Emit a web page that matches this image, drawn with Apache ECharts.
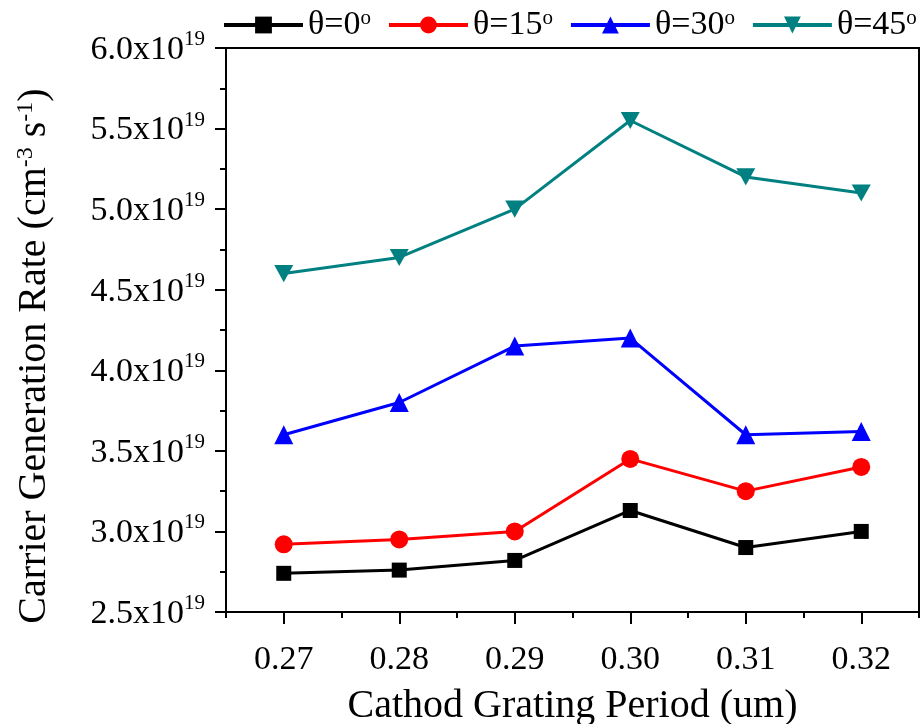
<!DOCTYPE html>
<html>
<head>
<meta charset="utf-8">
<script src="https://cdn.jsdelivr.net/npm/echarts@6/dist/echarts.min.js"></script>
<style>
  html, body { margin: 0; padding: 0; background: #fff; }
  #chart { width: 921px; height: 724px; }
</style>
</head>
<body>
<div id="chart"></div>
<script>
// Grating periods (um) on the x axis
const periods = ['0.27', '0.28', '0.29', '0.30', '0.31', '0.32'];
// Carrier generation rate, in units of 1e19 cm^-3 s^-1
const theta0  = [2.74, 2.76, 2.82, 3.13, 2.90, 3.00];
const theta15 = [2.92, 2.95, 3.00, 3.45, 3.25, 3.40];
const theta30 = [3.60, 3.80, 4.15, 4.20, 3.60, 3.62];
const theta45 = [4.60, 4.70, 5.00, 5.55, 5.20, 5.10];
const seriesNames = ['θ=0', 'θ=15', 'θ=30', 'θ=45'];
const yExponent = '19';

const FONT = '"Liberation Serif", "Times New Roman", serif';

const chart = echarts.init(document.getElementById('chart'), null, { renderer: 'canvas' });

function lineSeries(name, data, color, symbol, size) {
  return {
    name: name,
    type: 'line',
    data: data,
    symbol: symbol,
    symbolSize: size,
    symbolKeepAspect: true,
    lineStyle: { color: color, width: 3 },
    itemStyle: { color: color },
    emphasis: { disabled: true },
    animation: false
  };
}

const option = {
  backgroundColor: '#ffffff',
  legend: {
    top: 8,
    left: 222,
    width: 720,
    padding: 0,
    itemWidth: 79,
    itemHeight: 21,
    itemGap: 16,
    data: seriesNames,
    lineStyle: { width: 4 },
    formatter: function (n) { return n + '{s|o}'; },
    textStyle: {
      fontFamily: FONT,
      fontSize: 34,
      color: '#000',
      rich: {
        s: { fontFamily: FONT, fontSize: 21, verticalAlign: 'top', lineHeight: 18, color: '#000' }
      }
    }
  },
  grid: {
    left: 226,
    right: 2,
    top: 48,
    bottom: 112,
    containLabel: false,
    outerBoundsMode: 'none',
    show: true,
    borderColor: '#000',
    borderWidth: 2,
    backgroundColor: 'transparent'
  },
  xAxis: [
    {
      type: 'category',
      data: periods,
      boundaryGap: true,
      axisLine: { lineStyle: { color: '#000', width: 2 } },
      axisTick: { show: true, alignWithLabel: true, length: 12, lineStyle: { color: '#000', width: 2 } },
      axisLabel: { fontFamily: FONT, fontSize: 34, color: '#000', margin: 31 },
      splitLine: { show: false },
      name: 'Cathod Grating Period (um)',
      nameLocation: 'middle',
      nameGap: 74,
      nameTextStyle: { fontFamily: FONT, fontSize: 40, color: '#000' }
    },
    {
      // boundary ticks between periods (minor ticks)
      type: 'category',
      data: periods,
      position: 'bottom',
      boundaryGap: true,
      axisLine: { show: false },
      axisTick: { show: true, alignWithLabel: false, length: 6, lineStyle: { color: '#000', width: 2 } },
      axisLabel: { show: false },
      splitLine: { show: false }
    }
  ],
  yAxis: {
    type: 'value',
    min: 2.5,
    max: 6.0,
    interval: 0.5,
    axisLine: { show: true, lineStyle: { color: '#000', width: 2 } },
    axisTick: { show: true, length: 11, lineStyle: { color: '#000', width: 2 } },
    minorTick: { show: true, splitNumber: 2, length: 6, lineStyle: { color: '#000', width: 2 } },
    splitLine: { show: false },
    axisLabel: {
      margin: 21,
      formatter: function (v) { return '{m|' + v.toFixed(1) + 'x10}{s|' + yExponent + '}'; },
      rich: {
        m: { fontFamily: FONT, fontSize: 34, color: '#000', lineHeight: 38, verticalAlign: 'bottom' },
        s: { fontFamily: FONT, fontSize: 21, color: '#000', lineHeight: 38, verticalAlign: 'top' }
      }
    },
    name: 'Carrier Generation Rate (cm{s|-3} s{s|-1})',
    nameLocation: 'middle',
    nameGap: 172,
    nameRotate: 90,
    nameTextStyle: {
      fontFamily: FONT,
      fontSize: 40,
      color: '#000',
      padding: [0, 52, 0, 0],
      rich: {
        s: { fontFamily: FONT, fontSize: 24, color: '#000', verticalAlign: 'top' }
      }
    }
  },
  series: [
    lineSeries(seriesNames[0], theta0, '#000000', 'rect', 15),
    lineSeries(seriesNames[1], theta15, '#ff0000', 'circle', 18),
    lineSeries(seriesNames[2], theta30, '#0000ff', 'triangle', 19),
    lineSeries(seriesNames[3], theta45, '#008080', 'path://M0,0 L10,0 L5,9 Z', 19)
  ]
};

chart.setOption(option);
</script>
</body>
</html>
